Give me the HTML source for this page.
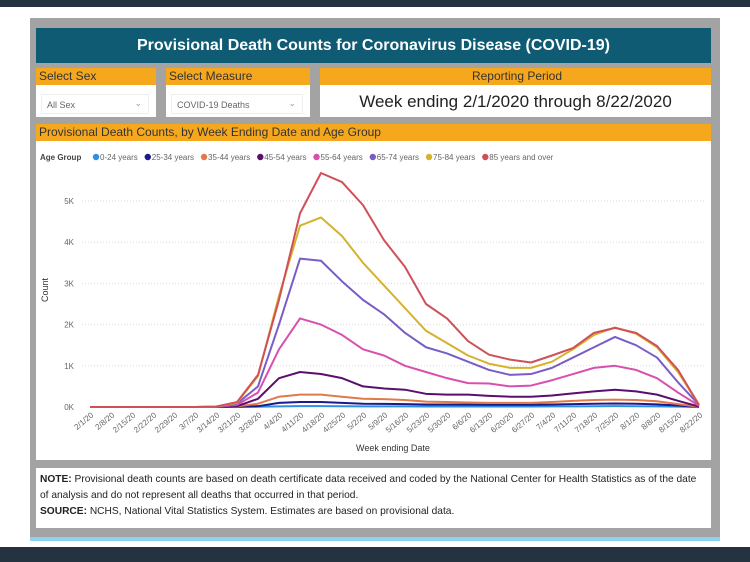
<!DOCTYPE html>
<html><head><meta charset="utf-8"><style>
body{margin:0;width:750px;height:562px;background:#fff;position:relative;overflow:hidden;font-family:"Liberation Sans",sans-serif}
.abs{position:absolute}
.or{background:#f5a81e;color:#333;font-size:12px;line-height:17px;padding-left:3px;box-sizing:border-box}
</style></head><body>
<div class="abs" style="left:0;top:0;width:750px;height:7px;background:#25323f"></div>
<div class="abs" style="left:0;top:547px;width:750px;height:15px;background:#25323f"></div>
<div class="abs" style="left:30px;top:18px;width:690px;height:520px;background:#a3a3a3"></div>
<div class="abs" style="left:30px;top:537px;width:690px;height:4px;background:#8fd0ee"></div>
<div class="abs" style="left:36px;top:28px;width:675px;height:35px;background:#0e5b73;color:#fff;font-weight:bold;font-size:16px;line-height:35px;text-align:center">Provisional Death Counts for Coronavirus Disease (COVID-19)</div>
<div class="abs or" style="left:36px;top:68px;width:120px;height:17px">Select Sex</div>
<div class="abs" style="left:36px;top:85px;width:120px;height:32px;background:#fff"><div style="position:absolute;left:5px;top:9px;width:108px;height:20px;border:1px solid #eee;font-size:9px;color:#666;line-height:20px;padding-left:5px;box-sizing:border-box">All Sex<span style="position:absolute;right:6px;top:-2px;color:#999">&#8964;</span></div></div>
<div class="abs or" style="left:166px;top:68px;width:144px;height:17px">Select Measure</div>
<div class="abs" style="left:166px;top:85px;width:144px;height:32px;background:#fff"><div style="position:absolute;left:5px;top:9px;width:132px;height:20px;border:1px solid #eee;font-size:9px;color:#666;line-height:20px;padding-left:5px;box-sizing:border-box">COVID-19 Deaths<span style="position:absolute;right:6px;top:-2px;color:#999">&#8964;</span></div></div>
<div class="abs or" style="left:320px;top:68px;width:391px;height:17px;text-align:center">Reporting Period</div>
<div class="abs" style="left:320px;top:85px;width:391px;height:32px;background:#fff;font-size:17px;line-height:34px;text-align:center;color:#222">Week ending 2/1/2020 through 8/22/2020</div>
<div class="abs or" style="left:36px;top:124px;width:675px;height:17px">Provisional Death Counts, by Week Ending Date and Age Group</div>
<div class="abs" style="left:36px;top:141px;width:675px;height:319px;background:#fff"></div>
<svg class="abs" id="chart" style="left:0;top:0" width="750" height="470"></svg>
<div class="abs" style="left:36px;top:468px;width:675px;height:60px;background:#fff;font-size:10.2px;line-height:16px;color:#222;padding:4px 4px;box-sizing:border-box"><b>NOTE:</b> Provisional death counts are based on death certificate data received and coded by the National Center for Health Statistics as of the date of analysis and do not represent all deaths that occurred in that period.<br><b>SOURCE:</b> NCHS, National Vital Statistics System. Estimates are based on provisional data.</div>
<script>
const dates=["2/1/20","2/8/20","2/15/20","2/22/20","2/29/20","3/7/20","3/14/20","3/21/20","3/28/20","4/4/20","4/11/20","4/18/20","4/25/20","5/2/20","5/9/20","5/16/20","5/23/20","5/30/20","6/6/20","6/13/20","6/20/20","6/27/20","7/4/20","7/11/20","7/18/20","7/25/20","8/1/20","8/8/20","8/15/20","8/22/20"];
const yTicks=[0,1000,2000,3000,4000,5000];
const yTickLabels=["0K","1K","2K","3K","4K","5K"];
const seriesNames=["0-24 years","25-34 years","35-44 years","45-54 years","55-64 years","65-74 years","75-84 years","85 years and over"];
const seriesColors=["#2f8fe0","#1a1a8c","#e07a4a","#5a0f6e","#d94fb0","#7a5cc8","#d6b22a","#d0505a"];
const s0=[0,0,0,0,0,0,0,2,5,15,20,20,18,15,15,14,12,12,12,12,12,12,14,16,18,20,18,15,8,1];
const s1=[0,0,0,0,0,0,0,5,20,100,120,120,100,80,75,70,60,60,58,55,55,55,62,70,80,85,78,65,35,3];
const s2=[0,0,0,0,0,0,2,15,80,250,300,300,250,200,190,170,130,120,110,100,100,100,120,150,170,180,170,140,70,5];
const s3=[0,0,0,0,0,0,3,20,200,700,850,800,700,500,450,420,320,300,300,270,250,250,280,330,380,420,380,300,150,10];
const s4=[0,0,0,0,0,0,5,50,350,1400,2150,2000,1750,1400,1250,1000,850,700,580,570,500,520,650,800,950,1000,900,700,350,30];
const s5=[0,0,0,0,0,0,5,80,500,2000,3600,3550,3050,2600,2250,1800,1450,1300,1100,900,780,800,950,1200,1450,1700,1500,1200,600,50];
const s6=[0,0,0,0,0,0,8,100,750,2700,4400,4600,4150,3500,2950,2400,1850,1550,1250,1050,950,950,1100,1400,1750,1930,1780,1450,850,50];
const s7=[0,0,0,0,0,0,10,120,780,2600,4700,5680,5460,4900,4050,3400,2500,2150,1600,1270,1150,1080,1250,1430,1800,1920,1800,1480,900,50];
const allSeries=[s0,s1,s2,s3,s4,s5,s6,s7];
const NS="http://www.w3.org/2000/svg";
const svg=document.getElementById('chart');
const x0=90,x1=699,yBase=407,yPerK=41.2;
const xs=i=>x0+i*(x1-x0)/(dates.length-1);
const ys=v=>yBase-v/1000*yPerK;
function mk(t,a){const e=document.createElementNS(NS,t);for(const k in a)e.setAttribute(k,a[k]);svg.appendChild(e);return e;}
yTicks.forEach((v,i)=>{
 if(v>0){const g=mk('line',{x1:82,x2:705,y1:ys(v),y2:ys(v),stroke:'#d8d8d8','stroke-dasharray':'1,2'});
 
 }
 const t=mk('text',{x:74,y:ys(v)+3,'text-anchor':'end','font-size':8,fill:'#666'});t.textContent=yTickLabels[i];
 
 
});
dates.forEach((d,i)=>{
 const t=mk('text',{x:xs(i)+4,y:416,'text-anchor':'end','font-size':8,fill:'#666',transform:`rotate(-40 ${xs(i)+4} 416)`});t.textContent=d;
 
 
});
let t=mk('text',{x:48,y:290,'text-anchor':'middle','font-size':9,fill:'#333',transform:'rotate(-90 48 290)'});t.textContent='Count';


t=mk('text',{x:393,y:451,'text-anchor':'middle','font-size':9,fill:'#333'});t.textContent='Week ending Date';


t=mk('text',{x:40,y:160,'font-size':8,fill:'#444','font-weight':'bold'});t.textContent='Age Group';


let lx=93;
seriesNames.forEach((n,i)=>{
 const c=mk('circle',{cx:lx+3,cy:157,r:3.2,fill:seriesColors[i]});
 
 
 const tt=mk('text',{x:lx+7,y:160,'font-size':8,fill:'#666'});tt.textContent=n;
 
 
 lx+=10+tt.getComputedTextLength()+4;
});
allSeries.forEach((s,k)=>{
 const p=mk('polyline',{points:s.map((v,i)=>xs(i)+','+ys(v)).join(' '),fill:'none',stroke:seriesColors[k],'stroke-width':2,'stroke-linejoin':'round'});
 
 
});
</script>
</body></html>
